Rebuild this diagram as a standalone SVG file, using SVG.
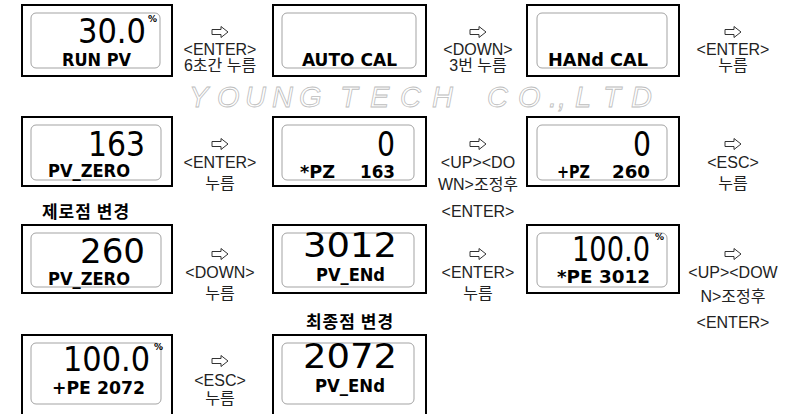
<svg xmlns="http://www.w3.org/2000/svg" width="800" height="414" viewBox="0 0 800 414">
<defs>
<path id="arrow" d="M-8,-2.5 H1 V-5.5 L8,0 L1,5.5 V2.5 H-8 Z" fill="#fff" stroke="#333" stroke-width="1" stroke-linejoin="miter"/>
</defs>
<style>
.outer{fill:#fff;stroke:#000;stroke-width:2}
.inner{fill:#fff;stroke:#999;stroke-width:0.9}
.big{font-family:"DejaVu Sans Condensed","DejaVu Sans",sans-serif;font-size:34px;fill:#000}
.sm{font-family:"DejaVu Sans Condensed","DejaVu Sans",sans-serif;font-size:18px;font-weight:bold;fill:#000}
.pct{font-family:"DejaVu Sans",sans-serif;font-size:9px;font-weight:bold;fill:#000}
.lbl{font-family:"Liberation Sans","Noto Sans CJK KR",sans-serif;font-size:16px;fill:#222;text-anchor:middle}
.cap{font-family:"Noto Sans CJK KR",sans-serif;font-size:17px;font-weight:bold;fill:#000;text-anchor:middle;letter-spacing:1px}
.wm{font-family:"Liberation Sans",sans-serif;font-style:italic;font-size:29px;fill:none;stroke:#bdbdbd;stroke-width:0.8}
</style>
<g id="watermark">
<text class="wm" y="107"><tspan x="189">Y</tspan><tspan x="217">O</tspan><tspan x="245">U</tspan><tspan x="272">N</tspan><tspan x="299">G</tspan><tspan x="340">T</tspan><tspan x="370">E</tspan><tspan x="400">C</tspan><tspan x="432">H</tspan><tspan x="487">C</tspan><tspan x="518">O</tspan><tspan x="549">.</tspan><tspan x="558">,</tspan><tspan x="575">L</tspan><tspan x="603">T</tspan><tspan x="631">D</tspan></text>
</g>
<g id="n1">
<rect class="outer" x="22" y="5" width="150" height="71"/>
<rect class="inner" x="31" y="13" width="129" height="55" rx="5"/>
<text class="big" x="78" y="43" textLength="68" lengthAdjust="spacingAndGlyphs">30.0</text>
<text class="pct" x="148" y="22">%</text>
<text class="sm" x="62" y="66" textLength="69" lengthAdjust="spacingAndGlyphs">RUN PV</text>
</g>
<g id="n2">
<rect class="outer" x="273" y="5" width="153" height="71"/>
<rect class="inner" x="282" y="13" width="134" height="55" rx="5"/>
<text class="sm" x="302" y="66" textLength="95" lengthAdjust="spacingAndGlyphs">AUTO CAL</text>
</g>
<g id="n3">
<rect class="outer" x="527" y="5" width="152" height="71"/>
<rect class="inner" x="537" y="13" width="130" height="55" rx="5"/>
<text class="sm" x="548" y="66" textLength="100" lengthAdjust="spacingAndGlyphs">HANd CAL</text>
</g>
<g id="n4">
<rect class="outer" x="22" y="117" width="150" height="69"/>
<rect class="inner" x="31" y="125" width="130" height="55" rx="5"/>
<text class="big" x="88" y="156" textLength="57" lengthAdjust="spacingAndGlyphs">163</text>
<text class="sm" x="48" y="177" textLength="82" lengthAdjust="spacingAndGlyphs">PV_ZERO</text>
</g>
<g id="n5">
<rect class="outer" x="273" y="117" width="153" height="69"/>
<rect class="inner" x="282" y="125" width="132" height="55" rx="5"/>
<text class="big" x="377" y="156" textLength="18" lengthAdjust="spacingAndGlyphs">0</text>
<text class="sm" x="300" y="178" textLength="35" lengthAdjust="spacingAndGlyphs">*PZ</text>
<text class="sm" x="360" y="178" textLength="35" lengthAdjust="spacingAndGlyphs">163</text>
</g>
<g id="n6">
<rect class="outer" x="527" y="117" width="152" height="69"/>
<rect class="inner" x="537" y="125" width="130" height="55" rx="5"/>
<text class="big" x="633" y="156" textLength="18" lengthAdjust="spacingAndGlyphs">0</text>
<text class="sm" x="557" y="178" textLength="33" lengthAdjust="spacingAndGlyphs">+PZ</text>
<text class="sm" x="612" y="178" textLength="38" lengthAdjust="spacingAndGlyphs">260</text>
</g>
<g id="n7">
<rect class="outer" x="22" y="225" width="150" height="68"/>
<rect class="inner" x="31" y="233" width="130" height="54" rx="5"/>
<text class="big" x="80" y="263" textLength="65" lengthAdjust="spacingAndGlyphs">260</text>
<text class="sm" x="48" y="285" textLength="82" lengthAdjust="spacingAndGlyphs">PV_ZERO</text>
</g>
<g id="n8">
<rect class="outer" x="273" y="225" width="153" height="68"/>
<rect class="inner" x="282" y="233" width="132" height="54" rx="5"/>
<text class="big" x="303" y="257" font-size="30" textLength="94" lengthAdjust="spacingAndGlyphs">3012</text>
<text class="sm" x="316" y="281" font-size="14" textLength="69" lengthAdjust="spacingAndGlyphs">PV_ENd</text>
</g>
<g id="n9">
<rect class="outer" x="527" y="225" width="152" height="68"/>
<rect class="inner" x="537" y="233" width="130" height="54" rx="5"/>
<text class="big" x="572" y="261" font-size="32" textLength="78" lengthAdjust="spacingAndGlyphs">100.0</text>
<text class="pct" x="655" y="240">%</text>
<text class="sm" x="557" y="283" font-size="16" textLength="93" lengthAdjust="spacingAndGlyphs">*PE 3012</text>
</g>
<g id="n10">
<rect class="outer" x="22" y="335" width="150" height="85"/>
<rect class="inner" x="31" y="343" width="130" height="61" rx="5"/>
<text class="big" x="63" y="371" font-size="33" textLength="87" lengthAdjust="spacingAndGlyphs">100.0</text>
<text class="pct" x="154" y="350">%</text>
<text class="sm" x="52" y="394" font-size="17" textLength="93" lengthAdjust="spacingAndGlyphs">+PE 2072</text>
</g>
<g id="n11">
<rect class="outer" x="273" y="335" width="153" height="85"/>
<rect class="inner" x="282" y="343" width="132" height="61" rx="5"/>
<text class="big" x="303" y="368" font-size="30" textLength="94" lengthAdjust="spacingAndGlyphs">2072</text>
<text class="sm" x="315" y="392" font-size="15" textLength="70" lengthAdjust="spacingAndGlyphs">PV_ENd</text>
</g>
<g id="captions">
<text class="cap" x="86" y="218">제로점 변경</text>
<text class="cap" x="350" y="328">최종점 변경</text>
</g>
<g id="connectors">
<use href="#arrow" x="220" y="32"/>
<text class="lbl" x="220" y="55">&lt;ENTER&gt;</text>
<text class="lbl" x="220" y="71">6초간 누름</text>
<use href="#arrow" x="478" y="32"/>
<text class="lbl" x="478" y="55">&lt;DOWN&gt;</text>
<text class="lbl" x="478" y="71">3번 누름</text>
<use href="#arrow" x="733" y="32"/>
<text class="lbl" x="733" y="55">&lt;ENTER&gt;</text>
<text class="lbl" x="733" y="71">누름</text>
<use href="#arrow" x="220" y="144"/>
<text class="lbl" x="220" y="168">&lt;ENTER&gt;</text>
<text class="lbl" x="220" y="189">누름</text>
<use href="#arrow" x="478" y="144"/>
<text class="lbl" x="478" y="168">&lt;UP&gt;&lt;DO</text>
<text class="lbl" x="478" y="190">WN&gt;조정후</text>
<text class="lbl" x="478" y="217">&lt;ENTER&gt;</text>
<use href="#arrow" x="733" y="144"/>
<text class="lbl" x="733" y="168">&lt;ESC&gt;</text>
<text class="lbl" x="733" y="189">누름</text>
<use href="#arrow" x="220" y="254"/>
<text class="lbl" x="220" y="278">&lt;DOWN&gt;</text>
<text class="lbl" x="220" y="299">누름</text>
<use href="#arrow" x="478" y="254"/>
<text class="lbl" x="478" y="278">&lt;ENTER&gt;</text>
<text class="lbl" x="478" y="299">누름</text>
<use href="#arrow" x="733" y="254"/>
<text class="lbl" x="733" y="278">&lt;UP&gt;&lt;DOW</text>
<text class="lbl" x="733" y="302">N&gt;조정후</text>
<text class="lbl" x="733" y="328">&lt;ENTER&gt;</text>
<use href="#arrow" x="220" y="361"/>
<text class="lbl" x="220" y="386">&lt;ESC&gt;</text>
<text class="lbl" x="220" y="404">누름</text>
</g>
</svg>
